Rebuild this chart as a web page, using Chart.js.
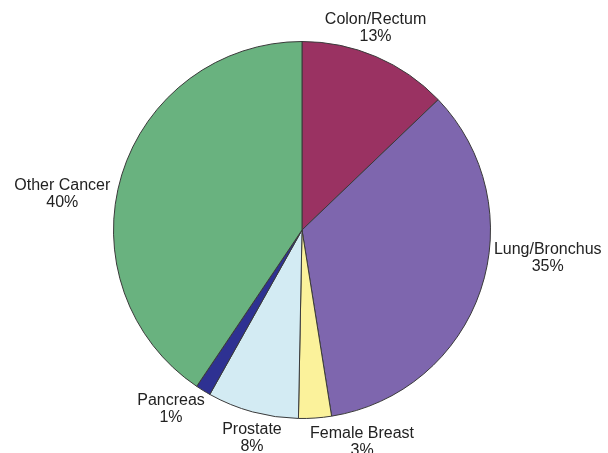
<!DOCTYPE html>
<html>
<head>
<meta charset="utf-8">
<script src="https://cdn.jsdelivr.net/npm/chart.js@4/dist/chart.umd.min.js"></script>
<style>
html,body{margin:0;padding:0;background:#fff;}
#wrap{width:608px;height:453px;}
</style>
</head>
<body>
<div id="wrap"><canvas id="c" width="608" height="453"></canvas></div>
<script>
const categories = ["Colon/Rectum", "Lung/Bronchus", "Female Breast", "Prostate", "Pancreas", "Other Cancer"];
const values = [12.8, 34.5, 2.8, 7.8, 1.3, 40.4];
const colors = ["#9A3262", "#7E66AE", "#FBF29B", "#D3EBF3", "#2E3192", "#69B27F"];
// small label nudges (px) relative to the automatically computed outside anchor
const labelNudge = [[-6, 1], [0, -37], [46, -7], [3, -4], [9, -10], [2, 23]];

const outsideLabels = {
  id: 'outsideLabels',
  afterDraw(chart) {
    const ctx = chart.ctx;
    const meta = chart.getDatasetMeta(0);
    ctx.save();
    ctx.font = '16px "Liberation Sans", Arial, sans-serif';
    ctx.fillStyle = '#222';
    const lineH = 17;
    meta.data.forEach((arc, i) => {
      const p = arc.getProps(['x', 'y', 'startAngle', 'endAngle', 'outerRadius'], true);
      const mid = (p.startAngle + p.endAngle) / 2;
      const r = p.outerRadius + 14;
      const c = Math.cos(mid), s = Math.sin(mid);
      let ax = p.x + r * c, ay = p.y + r * s;
      let align = 'center';
      if (c > 0.5) align = 'left';
      else if (c < -0.5) align = 'right';
      const lines = [categories[i], Math.round(values[i]) + '%'];
      const blockH = lines.length * lineH;
      let top;
      if (s < -0.5) top = ay - blockH;
      else if (s > 0.5) top = ay;
      else top = ay - blockH / 2;
      ax += labelNudge[i][0];
      top += labelNudge[i][1];
      ctx.textAlign = 'center';
      ctx.textBaseline = 'middle';
      const widths = lines.map(t => ctx.measureText(t).width);
      const bw = Math.max(...widths);
      let cx = ax;
      if (align === 'left') cx = ax + bw / 2;
      else if (align === 'right') cx = ax - bw / 2;
      lines.forEach((t, k) => {
        ctx.fillText(t, cx, top + lineH * k + lineH / 2);
      });
    });
    ctx.restore();
  }
};

new Chart(document.getElementById('c'), {
  type: 'pie',
  data: {
    labels: categories,
    datasets: [{
      data: values,
      backgroundColor: colors,
      borderColor: '#3a3a3a',
      borderWidth: 1
    }]
  },
  options: {
    responsive: false,
    animation: false,
    layout: { padding: { left: 113, right: 117, top: 41, bottom: 34 } },
    plugins: {
      legend: { display: false },
      tooltip: { enabled: false }
    }
  },
  plugins: [outsideLabels]
});
</script>
</body>
</html>
